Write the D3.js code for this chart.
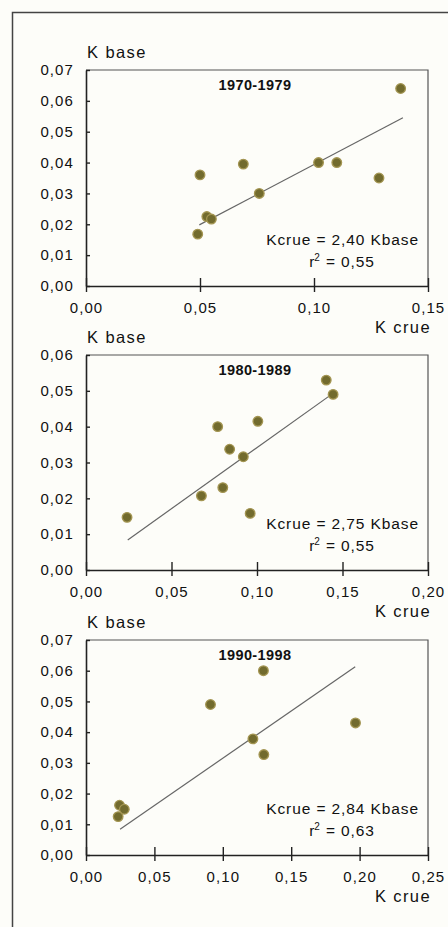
<!DOCTYPE html>
<html>
<head>
<meta charset="utf-8">
<script src="https://cdn.jsdelivr.net/npm/d3@7"></script>
<style>
  body { margin: 0; background: #fdfdf9; }
  text { font-family: "Liberation Sans", Arial, sans-serif; fill: #111; }
</style>
</head>
<body>
<div id="chart"></div>
<script>
// periods (one panel each)
const periods = ["1970-1979", "1980-1989", "1990-1998"];

// K crue / K base points per period
const crue7079 = [0.138, 0.050, 0.069, 0.102, 0.110, 0.1285, 0.076, 0.053, 0.055, 0.049];
const base7079 = [0.064, 0.036, 0.0395, 0.040, 0.040, 0.035, 0.030, 0.0225, 0.0217, 0.0168];
const crue8089 = [0.1405, 0.1445, 0.077, 0.1005, 0.084, 0.092, 0.0675, 0.080, 0.096, 0.024];
const base8089 = [0.053, 0.049, 0.040, 0.0415, 0.0337, 0.0316, 0.0207, 0.023, 0.0158, 0.0147];
const crue9098 = [0.1297, 0.091, 0.197, 0.122, 0.130, 0.0245, 0.028, 0.0235];
const base9098 = [0.060, 0.049, 0.043, 0.0378, 0.0327, 0.0162, 0.0149, 0.0125];

// fitted line ends [crue, base]
const fit7079 = [[0.0497, 0.0198], [0.139, 0.0545]];
const fit8089 = [[0.0244, 0.0084], [0.143, 0.0488]];
const fit9098 = [[0.0249, 0.0084], [0.1968, 0.0613]];

const equations = ["Kcrue = 2,40 Kbase", "Kcrue = 2,75 Kbase", "Kcrue = 2,84 Kbase"];
const r2values = ["0,55", "0,55", "0,63"];

// tick values
const xTicks7079 = [0, 0.05, 0.10, 0.15];
const xTicks8089 = [0, 0.05, 0.10, 0.15, 0.20];
const xTicks9098 = [0, 0.05, 0.10, 0.15, 0.20, 0.25];
const yTicks7079 = [0, 0.01, 0.02, 0.03, 0.04, 0.05, 0.06, 0.07];
const yTicks8089 = [0, 0.01, 0.02, 0.03, 0.04, 0.05, 0.06];
const yTicks9098 = [0, 0.01, 0.02, 0.03, 0.04, 0.05, 0.06, 0.07];

var width = 448, height = 927;
var left = 86, right = 428;

var panels = [
    {crue: crue7079, base: base7079, fit: fit7079, xt: xTicks7079, yt: yTicks7079, top: 70, bottom: 286},
    {crue: crue8089, base: base8089, fit: fit8089, xt: xTicks8089, yt: yTicks8089, top: 355, bottom: 570},
    {crue: crue9098, base: base9098, fit: fit9098, xt: xTicks9098, yt: yTicks9098, top: 640, bottom: 855}
];

var fmt = d => d3.format(".2f")(d).replace(".", ",");

var svg = d3.select("#chart")
    .append("svg")
    .attr("width", width)
    .attr("height", height);

// outer frame (top + left)
svg.append("path")
    .attr("d", "M12.5,927V12.5H448")
    .attr("fill", "none")
    .attr("stroke", "#444")
    .attr("stroke-width", 1.5);

panels.forEach(function(p, i) {
    var xScale = d3.scaleLinear()
        .domain([0, p.xt[p.xt.length - 1]])
        .range([left, right]);
    var yScale = d3.scaleLinear()
        .domain([0, p.yt[p.yt.length - 1]])
        .range([p.bottom, p.top]);

    var g = svg.append("g");

    // top and right frame
    g.append("path")
        .attr("d", "M" + left + "," + p.top + "H" + right + "V" + p.bottom)
        .attr("fill", "none")
        .attr("stroke", "#555")
        .attr("stroke-width", 1.2);

    // x axis
    var xa = g.append("g")
        .attr("transform", "translate(0," + p.bottom + ")")
        .call(d3.axisBottom(xScale).tickValues(p.xt).tickFormat(fmt).tickSizeInner(6).tickSizeOuter(0).tickPadding(10));
    xa.select(".domain").attr("stroke", "#222").attr("stroke-width", 1.6);
    xa.selectAll(".tick line").attr("y1", -8).attr("stroke", "#222").attr("stroke-width", 1.4);
    xa.selectAll(".tick text")
        .attr("font-size", "15px")
        .attr("letter-spacing", "1.1px")
        .attr("font-family", "Liberation Sans, Arial, sans-serif")
        .attr("fill", "#111");

    // y axis
    var ya = g.append("g")
        .attr("transform", "translate(" + left + ",0)")
        .call(d3.axisLeft(yScale).tickValues(p.yt).tickFormat(fmt).tickSizeInner(9).tickSizeOuter(0).tickPadding(3));
    ya.select(".domain").attr("stroke", "#222").attr("stroke-width", 1.6);
    ya.selectAll(".tick line").attr("x2", 4).attr("stroke", "#222").attr("stroke-width", 1.4);
    ya.selectAll(".tick text")
        .attr("font-size", "15px")
        .attr("letter-spacing", "1.1px")
        .attr("font-family", "Liberation Sans, Arial, sans-serif")
        .attr("fill", "#111");

    // axis titles
    g.append("text")
        .attr("x", left + 1)
        .attr("y", p.top - 12)
        .attr("font-size", "16.5px")
        .attr("letter-spacing", "1.4px")
        .text("K base");
    g.append("text")
        .attr("x", 431)
        .attr("y", p.bottom + 47)
        .attr("text-anchor", "end")
        .attr("font-size", "16.5px")
        .attr("letter-spacing", "1.4px")
        .text("K crue");

    // period title
    g.append("text")
        .attr("x", 255)
        .attr("y", p.top + 20)
        .attr("text-anchor", "middle")
        .attr("font-size", "14.5px")
        .attr("font-weight", "bold")
        .attr("letter-spacing", "0.4px")
        .text(periods[i]);

    // fitted line
    g.append("line")
        .attr("x1", xScale(p.fit[0][0]))
        .attr("y1", yScale(p.fit[0][1]))
        .attr("x2", xScale(p.fit[1][0]))
        .attr("y2", yScale(p.fit[1][1]))
        .attr("stroke", "#666")
        .attr("stroke-width", 1.2);

    // points
    var pts = p.crue.map((c, j) => ({c: c, b: p.base[j]}));
    g.selectAll("circle")
        .data(pts)
        .enter().append("circle")
        .attr("cx", d => xScale(d.c))
        .attr("cy", d => yScale(d.b))
        .attr("r", 4.8)
        .attr("fill", "#726b2e")
        .attr("stroke", "#a39552")
        .attr("stroke-width", 1.3);

    // equation
    g.append("text")
        .attr("x", 419)
        .attr("y", p.bottom - 41)
        .attr("text-anchor", "end")
        .attr("font-size", "15.5px")
        .attr("letter-spacing", "0.9px")
        .text(equations[i]);
    var r = g.append("text")
        .attr("x", 342)
        .attr("y", p.bottom - 19)
        .attr("text-anchor", "middle")
        .attr("font-size", "15.5px")
        .attr("letter-spacing", "0.9px");
    r.append("tspan").text("r");
    r.append("tspan").attr("font-size", "10px").attr("dx", -1).attr("dy", -6).text("2");
    r.append("tspan").attr("dy", 6).text(" = " + r2values[i]);
});
</script>
</body>
</html>
